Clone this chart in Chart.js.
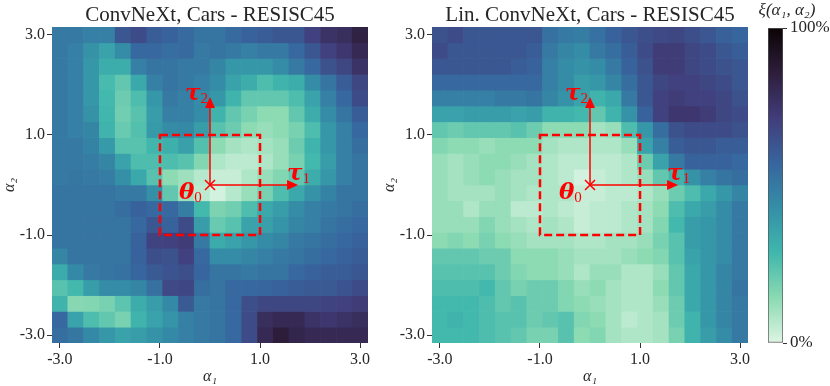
<!DOCTYPE html>
<html>
<head>
<meta charset="utf-8">
<script src="https://cdn.jsdelivr.net/npm/chart.js@4.4.0/dist/chart.umd.min.js"></script>
<style>
  html, body { margin: 0; padding: 0; background: #fff; }
  #wrap { position: relative; width: 830px; height: 386px; overflow: hidden; }
  canvas { position: absolute; top: 0; display: block; }
</style>
</head>
<body>
<div id="wrap">
  <canvas id="graficoBase" width="380" height="386" style="left:0"></canvas>
  <canvas id="graficoLin" width="380" height="386" style="left:380px"></canvas>
  <canvas id="graficoBarra" width="90" height="386" style="left:740px"></canvas>
</div>
<script>
// centros das células (alpha1 / alpha2)
const alphas = [-3.0, -2.684, -2.368, -2.053, -1.737, -1.421, -1.105, -0.789, -0.474, -0.158,
                0.158, 0.474, 0.789, 1.105, 1.421, 1.737, 2.053, 2.368, 2.684, 3.0];
const alphaTicks = [-3, -1, 1, 3];
const barraTicks = [0, 100];
const titulos = ['ConvNeXt, Cars - RESISC45', 'Lin. ConvNeXt, Cars - RESISC45'];

// erro em %, linhas de alpha2 = 3.0 (topo) até alpha2 = -3.0 (base)
const erroBase = [
  [50,50,48,48,62,66,60,58,55,52,52,55,58,60,62,62,70,76,78,84],
  [50,48,42,36,44,56,56,54,55,50,52,50,48,50,50,56,62,70,74,80],
  [50,48,40,32,32,48,52,52,50,50,46,40,40,40,44,50,56,64,68,76],
  [50,48,40,27,22,34,48,52,50,48,44,36,32,26,30,32,44,52,60,68],
  [50,48,40,28,20,26,40,50,48,44,40,30,22,22,22,26,36,48,56,66],
  [50,48,42,29,19,24,38,48,48,44,30,22,18,14,14,22,32,44,52,60],
  [50,48,46,30,21,25,39,44,45,38,24,20,14,12,14,18,26,40,48,56],
  [50,50,47,39,24,24,29,31,37,25,14,10,8,10,12,20,30,40,48,54],
  [50,50,49,46,36,26,26,26,24,16,8,6,6,8,12,18,28,38,48,52],
  [50,51,50,49,43,34,24,14,11,7,4,4,8,12,16,22,32,40,48,52],
  [52,52,52,52,50,50,43,22,11,6,2,7,12,18,26,34,42,47,52,52],
  [52,52,52,52,54,58,56,56,49,28,17,19,26,34,38,44,48,50,52,54],
  [52,52,52,52,52,56,62,58,66,38,21,24,36,37,41,46,48,52,54,56],
  [52,52,52,52,52,58,69,70,72,50,33,36,40,44,46,50,52,54,56,58],
  [46,52,52,52,52,58,65,64,70,56,44,44,46,48,50,52,54,56,58,60],
  [33,45,50,52,53,57,61,63,65,57,52,52,50,52,52,56,58,60,60,62],
  [24,28,38,44,44,46,53,67,68,54,52,56,56,57,58,60,61,61,63,66],
  [30,15,16,18,23,32,38,45,61,50,52,56,65,68,68,68,68,69,70,72],
  [56,36,26,22,18,30,36,41,48,50,52,56,66,78,80,80,76,74,76,78],
  [54,51,45,40,36,38,42,45,48,50,52,56,66,80,86,82,80,80,80,80]
];
const erroLin = [
  [64,66,62,62,62,62,62,53,50,49,53,58,62,65,67,68,65,62,59,57],
  [66,62,62,62,62,62,60,50,46,44,50,54,60,66,72,72,68,66,62,60],
  [62,62,62,62,62,60,58,48,44,42,44,50,58,64,72,72,68,66,64,62],
  [56,56,56,56,56,56,56,48,44,38,40,46,54,62,68,70,70,68,66,62],
  [48,48,48,48,50,50,52,46,42,36,30,34,50,62,70,72,70,70,68,64],
  [36,36,38,38,38,36,38,30,30,28,22,30,42,58,70,74,74,72,68,66],
  [22,20,22,22,22,24,20,14,14,14,10,12,26,40,54,64,66,66,66,64],
  [16,14,14,12,14,14,14,10,8,8,8,8,12,36,48,60,62,62,60,60],
  [12,10,12,14,14,12,10,8,6,6,6,6,8,20,36,50,58,58,58,56],
  [12,10,12,14,12,10,10,8,6,2,4,6,8,12,22,30,42,48,52,54],
  [12,10,10,10,12,10,8,8,8,4,4,6,6,8,12,20,26,34,40,46],
  [12,12,8,12,12,6,6,8,6,4,6,6,8,10,14,26,34,38,44,50],
  [12,12,12,16,12,10,8,10,8,4,6,6,8,10,16,28,38,40,44,50],
  [14,16,14,18,14,12,10,10,10,8,8,10,10,12,18,24,38,40,44,50],
  [22,22,22,20,20,14,14,14,12,10,10,10,12,14,16,24,36,40,44,50],
  [24,24,24,24,20,16,14,14,12,8,12,12,8,8,12,22,34,40,46,50],
  [26,26,26,28,22,18,20,20,16,12,14,10,8,8,14,22,34,40,46,52],
  [28,28,28,26,22,24,20,20,16,14,12,10,8,8,12,20,34,40,46,50],
  [28,30,28,26,24,24,20,22,24,16,14,10,6,8,10,20,30,40,46,50],
  [28,28,28,26,24,22,18,18,24,14,16,10,8,8,10,18,30,38,44,50]
];

// caixa tracejada e setas em coordenadas dos dados
const caixa = [-1, 1];
const comprimentoSeta = 1.76;

const meiaCelula = 3 / 19;
const limite = 3 + meiaCelula;
const vermelho = '#ff0000';
const corTexto = '#262626';
const fonteSerif = '"Liberation Serif", "DejaVu Serif", serif';

// mako_r (0% claro -> 100% escuro)
const makoPontos = [0, 14.3, 28.6, 42.9, 57.1, 71.4, 85.7, 100];
const makoCores = ['#def5e5', '#8bdab2', '#40b7ad', '#348fa7', '#37659e', '#413d7b', '#2e1e3b', '#0b0405'];

function hexParaRgb(h) {
    return [parseInt(h.slice(1, 3), 16), parseInt(h.slice(3, 5), 16), parseInt(h.slice(5, 7), 16)];
}

function corMako(v) {
    v = Math.max(0, Math.min(100, v));
    let i = 0;
    while (i < makoPontos.length - 2 && v > makoPontos[i + 1]) i++;
    const t = (v - makoPontos[i]) / (makoPontos[i + 1] - makoPontos[i]);
    const a = hexParaRgb(makoCores[i]);
    const b = hexParaRgb(makoCores[i + 1]);
    const c = a.map((x, k) => Math.round(x + (b[k] - x) * t));
    return `rgb(${c[0]}, ${c[1]}, ${c[2]})`;
}

function montarDatasets(grade) {
    return grade.map((linha, r) => {
        const a2 = alphas[alphas.length - 1 - r];
        return {
            data: linha.map((v, c) => ({ x: alphas[c], y: [a2 - meiaCelula, a2 + meiaCelula] })),
            backgroundColor: linha.map(corMako),
            borderWidth: 0,
            grouped: false,
            barPercentage: 1,
            categoryPercentage: 1
        };
    });
}

function seta(ctx, x0, y0, x1, y1) {
    const ang = Math.atan2(y1 - y0, x1 - x0);
    const cab = 11, larg = 5;
    const cx = Math.cos(ang), sy = Math.sin(ang);
    ctx.beginPath();
    ctx.moveTo(x0, y0);
    ctx.lineTo(x1 - cab * cx, y1 - cab * sy);
    ctx.stroke();
    ctx.beginPath();
    ctx.moveTo(x1, y1);
    ctx.lineTo(x1 - cab * cx - larg * sy, y1 - cab * sy + larg * cx);
    ctx.lineTo(x1 - cab * cx + larg * sy, y1 - cab * sy - larg * cx);
    ctx.closePath();
    ctx.fill();
}

function rotulo(ctx, x, y, principal, indice) {
    ctx.font = 'bold italic 23px "DejaVu Serif", serif';
    ctx.textAlign = 'left';
    ctx.textBaseline = 'alphabetic';
    ctx.fillText(principal, x, y);
    const w = ctx.measureText(principal).width;
    ctx.font = '15px ' + fonteSerif;
    ctx.fillText(indice, x + w, y + 3);
}

const sobreposicao = {
    id: 'sobreposicao',
    afterDatasetsDraw(chart) {
        const { ctx, scales: { x, y } } = chart;
        const px = v => x.getPixelForValue(v);
        const py = v => y.getPixelForValue(v);
        ctx.save();
        ctx.strokeStyle = vermelho;
        ctx.fillStyle = vermelho;

        ctx.lineWidth = 2.5;
        ctx.setLineDash([8, 4]);
        ctx.strokeRect(px(caixa[0]), py(caixa[1]), px(caixa[1]) - px(caixa[0]), py(caixa[0]) - py(caixa[1]));
        ctx.setLineDash([]);

        ctx.lineWidth = 1.5;
        seta(ctx, px(0), py(0), px(comprimentoSeta), py(0));
        seta(ctx, px(0), py(0), px(0), py(comprimentoSeta));

        const m = 5;
        ctx.beginPath();
        ctx.moveTo(px(0) - m, py(0) - m); ctx.lineTo(px(0) + m, py(0) + m);
        ctx.moveTo(px(0) - m, py(0) + m); ctx.lineTo(px(0) + m, py(0) - m);
        ctx.stroke();

        rotulo(ctx, px(-0.62), py(-0.27), 'θ', '0');
        rotulo(ctx, px(1.54), py(0.1), 'τ', '1');
        rotulo(ctx, px(-0.5), py(1.69), 'τ', '2');
        ctx.restore();
    },
    afterDraw(chart) {
        const { ctx, chartArea } = chart;
        ctx.save();
        ctx.fillStyle = corTexto;
        ctx.font = '21px ' + fonteSerif;
        ctx.textAlign = 'center';
        ctx.textBaseline = 'alphabetic';
        ctx.fillText(chart.options.plugins.tituloTexto, (chartArea.left + chartArea.right) / 2, 21);
        ctx.restore();
    }
};

function eixo(extra) {
    return Object.assign({
        type: 'linear',
        min: -limite,
        max: limite,
        offset: false,
        afterBuildTicks: s => { s.ticks = alphaTicks.map(v => ({ value: v })); },
        ticks: {
            callback: v => v.toFixed(1),
            color: corTexto,
            font: { family: fonteSerif, size: 16 },
            autoSkip: false,
            maxRotation: 0,
            padding: 2
        },
        grid: { drawOnChartArea: false, offset: false, tickLength: 5, color: '#333' },
        border: { display: false }
    }, extra);
}

function criarMapa(id, grade, titulo) {
    return new Chart(document.getElementById(id), {
        type: 'bar',
        data: { datasets: montarDatasets(grade) },
        options: {
            responsive: false,
            animation: false,
            layout: { padding: { top: 27, right: 12, left: 0, bottom: 0 } },
            scales: {
                x: eixo({
                    title: { display: true, text: 'α₁', color: corTexto, font: { family: fonteSerif, size: 16, style: 'italic' }, padding: { top: 2, bottom: 0 } },
                    afterFit: s => { s.height = 43; }
                }),
                y: eixo({
                    title: { display: true, text: 'α₂', color: corTexto, font: { family: fonteSerif, size: 16, style: 'italic' }, padding: { top: 0, bottom: 2 } },
                    afterFit: s => { s.width = 52; }
                })
            },
            plugins: {
                legend: { display: false },
                tooltip: { enabled: false },
                tituloTexto: titulo
            }
        },
        plugins: [sobreposicao]
    });
}

const graficoBase = criarMapa('graficoBase', erroBase, titulos[0]);
const graficoLin = criarMapa('graficoLin', erroLin, titulos[1]);

const graficoBarra = new Chart(document.getElementById('graficoBarra'), {
    type: 'bar',
    data: {
        labels: [''],
        datasets: [{
            data: [[barraTicks[0], barraTicks[1]]],
            backgroundColor: ctx => {
                const a = ctx.chart.chartArea;
                if (!a) return makoCores[3];
                const g = ctx.chart.ctx.createLinearGradient(0, a.bottom, 0, a.top);
                makoPontos.forEach((p, i) => g.addColorStop(p / 100, makoCores[i]));
                return g;
            },
            borderColor: '#555',
            borderWidth: 1,
            borderSkipped: false,
            barPercentage: 1,
            categoryPercentage: 1
        }]
    },
    options: {
        responsive: false,
        animation: false,
        layout: { padding: { left: 28, top: 28, bottom: 43, right: 0 } },
        scales: {
            x: { display: false },
            y: {
                position: 'right',
                min: 0,
                max: 100,
                afterBuildTicks: s => { s.ticks = barraTicks.map(v => ({ value: v })); },
                ticks: {
                    callback: v => v + '%',
                    color: corTexto,
                    font: { family: fonteSerif, size: 17 },
                    padding: 3
                },
                grid: { drawOnChartArea: false, tickLength: 4, color: '#333' },
                border: { display: false },
                afterFit: s => { s.width = 47; }
            }
        },
        plugins: {
            legend: { display: false },
            tooltip: { enabled: false }
        }
    },
    plugins: [{
        id: 'tituloBarra',
        afterDraw(chart) {
            const { ctx } = chart;
            ctx.save();
            ctx.fillStyle = corTexto;
            ctx.font = 'italic 17px ' + fonteSerif;
            ctx.textAlign = 'center';
            ctx.fillText('ξ(α₁, α₂)', 47, 15);
            ctx.restore();
        }
    }]
});
</script>
</body>
</html>
